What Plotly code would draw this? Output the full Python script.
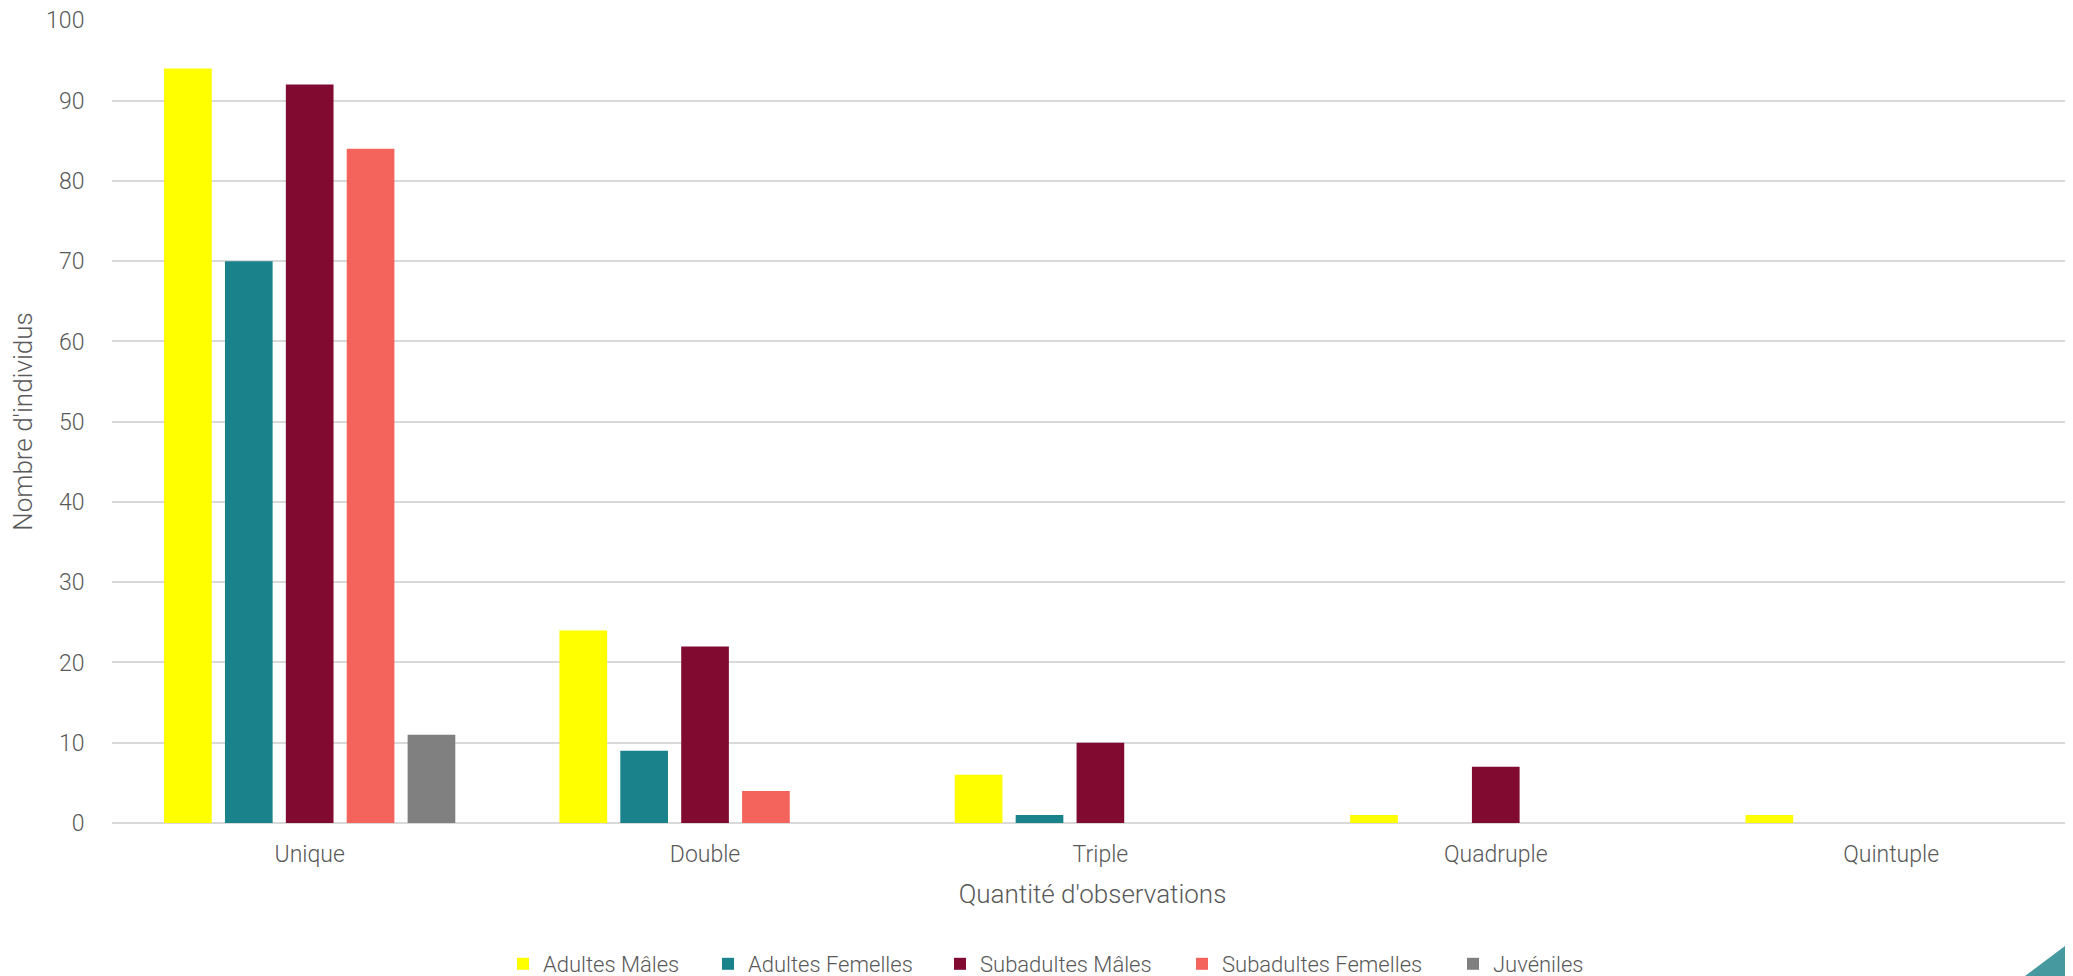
import plotly.graph_objects as go

categories = ["Unique", "Double", "Triple", "Quadruple", "Quintuple"]
series_names = ["Adultes Mâles", "Adultes Femelles", "Subadultes Mâles", "Subadultes Femelles", "Juvéniles"]
adultes_males = [94, 24, 6, 1, 1]
adultes_femelles = [70, 9, 1, 0, 0]
subadultes_males = [92, 22, 10, 7, 0]
subadultes_femelles = [84, 4, 0, 0, 0]
juveniles = [11, 0, 0, 0, 0]
y_ticks = [0, 10, 20, 30, 40, 50, 60, 70, 80, 90, 100]

colors = ["#FFFF00", "#1A828A", "#800A30", "#F5645C", "#808080"]
values = [adultes_males, adultes_femelles, subadultes_males, subadultes_femelles, juveniles]
legend_widths = [160, 187, 197, 226, None]

OFF = 8  # default page body margin
W, H = 2073 - OFF, 976 - OFF
ml, mr, mt, mb = 112 - OFF, 0, 20 - OFF, 153
pw, ph = W - ml - mr, H - mt - mb

font_family = "Roboto"
txt_color = "#595959"

fig = go.Figure()
for name, vals, col, lw in zip(series_names, values, colors, legend_widths):
    fig.add_trace(go.Bar(x=categories, y=vals, name=name, legendwidth=lw,
                         marker=dict(color=col, line=dict(width=0))))

def px_x(x):
    return (x - OFF - ml) / pw

def px_y(y):
    return (H - mb - (y - OFF)) / ph

fig.update_layout(
    width=W, height=H,
    margin=dict(l=ml, r=mr, t=mt, b=mb, autoexpand=False),
    paper_bgcolor="white", plot_bgcolor="white",
    barmode="group", bargap=0.23, bargroupgap=0.217,
    font=dict(family=font_family, size=22, color=txt_color, weight=300),
    showlegend=True,
    legend=dict(orientation="h", x=px_x(1046), xanchor="center", y=px_y(964), yanchor="middle",
                font=dict(size=22, color=txt_color, family=font_family, weight=300),
                itemsizing="constant", traceorder="normal", itemwidth=30),
    xaxis=dict(range=[-0.5, 4.46], automargin=False,
               showgrid=False, zeroline=False, showline=False,
               ticks="outside", ticklen=10, tickcolor="rgba(0,0,0,0)",
               tickfont=dict(size=23, color=txt_color, family=font_family, weight=300),
               title=dict(text="Quantité d'observations", standoff=18,
                          font=dict(size=26, color=txt_color, family=font_family, weight=300)),
               fixedrange=True),
    yaxis=dict(range=[0, 100.05], tickvals=y_ticks, automargin=False, ticklabeloverflow="allow",
               showgrid=True, gridcolor="#D9D9D9", gridwidth=1.5,
               zeroline=True, zerolinecolor="#D9D9D9", zerolinewidth=1.5, showline=False,
               ticks="outside", ticklen=22, tickcolor="rgba(0,0,0,0)",
               tickfont=dict(size=23, color=txt_color, family=font_family, weight=300),
               title=dict(text="Nombre d'individus", standoff=10,
                          font=dict(size=26, color=txt_color, family=font_family, weight=300)),
               fixedrange=True),
)

# decorative corner triangle
x0, x1 = px_x(2025), px_x(2073)
y0, y1 = px_y(976), px_y(940)
fig.add_shape(type="path", xref="paper", yref="paper",
              path=f"M {x0} {y0} L {x1} {y1} L {x1} {y0} Z",
              fillcolor="#45999F", line=dict(width=0))

fig.write_html("out.html")
